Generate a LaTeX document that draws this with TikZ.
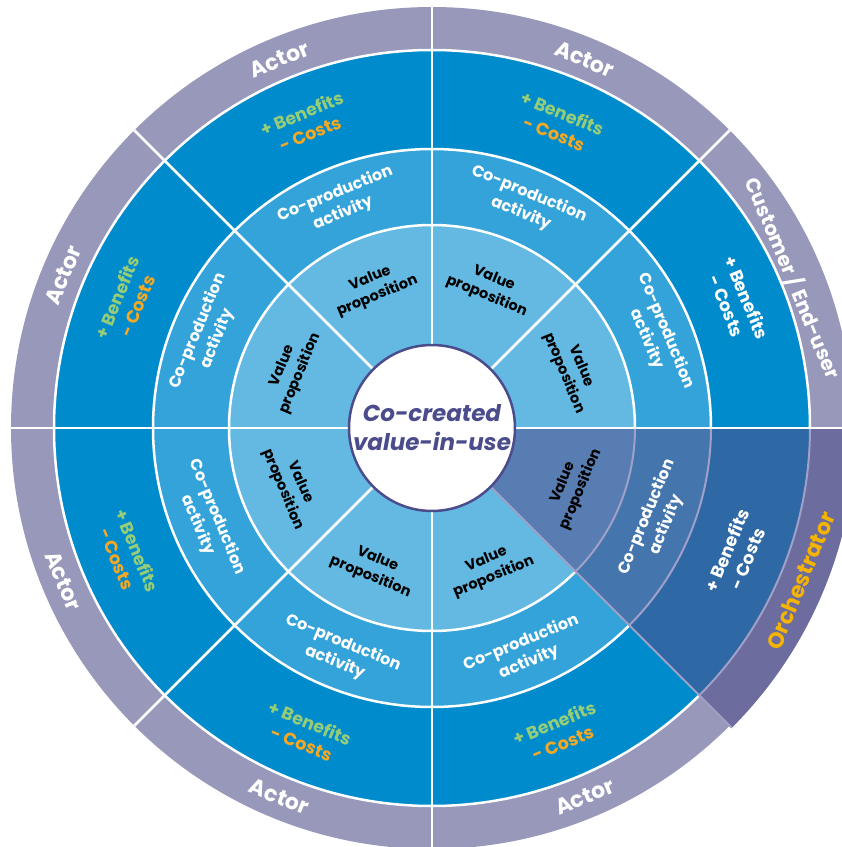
\documentclass[tikz,border=0pt]{standalone}
\usepackage{fontspec}
\setmainfont{Poppins}
\usepackage{tikz}
\usetikzlibrary{shapes.geometric}
\usetikzlibrary{positioning}

\definecolor{ringgrey}{RGB}{152,152,186}
\definecolor{benblue}{RGB}{0,140,204}
\definecolor{copblue}{RGB}{51,163,217}
\definecolor{vpblue}{RGB}{100,185,226}
\definecolor{orring}{RGB}{108,108,158}
\definecolor{orben}{RGB}{46,104,165}
\definecolor{orcop}{RGB}{69,117,173}
\definecolor{orvp}{RGB}{88,125,178}
\definecolor{orline}{RGB}{160,160,200}
\definecolor{bengreen}{RGB}{150,205,120}
\definecolor{costorange}{RGB}{247,168,35}
\definecolor{orchyellow}{RGB}{245,180,0}
\definecolor{ctrtext}{RGB}{75,76,140}

\tikzset{
  ringlbl/.style={text=white,font=\bfseries\fontsize{22}{24}\selectfont},
  benlbl/.style={align=center,font=\bfseries\fontsize{17.5}{22}\selectfont},
  coplbl/.style={text=white,align=center,font=\bfseries\fontsize{16}{21}\selectfont},
  vplbl/.style={text=black,align=center,font=\bfseries\fontsize{14.5}{19}\selectfont},
  sepline/.style={white,line width=2.5pt},
  orsep/.style={orline,line width=2pt}
}
\newcommand{\bencost}{\textcolor{bengreen}{+ Benefits}\\\textcolor{costorange}{- Costs}}

\begin{document}
\begin{tikzpicture}[x=1pt,y=1pt]
\useasboundingbox (-432,-419) rectangle (410,428);
\clip (-432,-419) rectangle (410,428);

% rings
\fill[ringgrey] (0,0) circle (421);
\fill[benblue] (0,0) circle (378);
\fill[copblue] (0,0) circle (279);
\fill[vpblue] (0,0) circle (203);

% orchestrator sector
\fill[orring] (0,0) -- (0:424) arc[start angle=0,end angle=-45,radius=424] -- cycle;
\fill[orben] (0,0) -- (0:378) arc[start angle=0,end angle=-45,radius=378] -- cycle;
\fill[orcop] (0,0) -- (0:279) arc[start angle=0,end angle=-45,radius=279] -- cycle;
\fill[orvp] (0,0) -- (0:203) arc[start angle=0,end angle=-45,radius=203] -- cycle;

% separators
\draw[sepline] (0:378) arc[start angle=0,end angle=315,radius=378];
\draw[sepline] (0:279) arc[start angle=0,end angle=315,radius=279];
\draw[sepline] (0:203) arc[start angle=0,end angle=315,radius=203];
\draw[orsep] (0:378) arc[start angle=0,end angle=-45,radius=378];
\draw[orsep] (0:279) arc[start angle=0,end angle=-45,radius=279];
\draw[orsep] (0:203) arc[start angle=0,end angle=-45,radius=203];
\draw[sepline] (0,0) -- (0:421);
\draw[sepline] (0,0) -- (45:421);
\draw[sepline] (0,0) -- (90:421);
\draw[sepline] (0,0) -- (135:421);
\draw[sepline] (0,0) -- (180:421);
\draw[sepline] (0,0) -- (225:421);
\draw[sepline] (0,0) -- (270:421);
\draw[orsep] (0,0) -- (-45:424);

% centre
\node (ctr) [circle,draw=ctrtext,line width=2.5pt,fill=white,minimum size=166pt] at (0,0) {};
\node (ctrtxt) [text=ctrtext,align=center,font=\bfseries\itshape\fontsize{23}{29}\selectfont] at (ctr) {Co-created\\value-in-use};

% outer labels
\node (actA) [ringlbl,rotate=22.5] at (112.5:399) {Actor};
\node (actB) [ringlbl,rotate=-22.5] at (67.5:399) {Actor};
\node (cust) [ringlbl,rotate=-67.5,font=\bfseries\fontsize{20}{22}\selectfont] at (22.5:391) {Customer / End-user};
\node (orch) [ringlbl,rotate=67.5,text=orchyellow] at (-22.5:399) {Orchestrator};
\node (actE) [ringlbl,rotate=22.5] at (-67.5:399) {Actor};
\node (actF) [ringlbl,rotate=-22.5] at (-112.5:399) {Actor};
\node (actG) [ringlbl,rotate=-67.5] at (-157.5:399) {Actor};
\node (actH) [ringlbl,rotate=67.5] at (157.5:399) {Actor};

% benefits and costs
\node (benA) [benlbl,rotate=22.5] at (112.5:330) {\bencost};
\node (benB) [benlbl,rotate=-22.5] at (67.5:330) {\bencost};
\node (benC) [benlbl,rotate=-67.5,text=white] at (22.5:330) {+ Benefits\\- Costs};
\node (benD) [benlbl,rotate=67.5,text=white] at (-22.5:330) {+ Benefits\\- Costs};
\node (benE) [benlbl,rotate=22.5] at (-67.5:330) {\bencost};
\node (benF) [benlbl,rotate=-22.5] at (-112.5:330) {\bencost};
\node (benG) [benlbl,rotate=-67.5] at (-157.5:330) {\bencost};
\node (benH) [benlbl,rotate=67.5] at (157.5:330) {\bencost};

% co-production
\node (copA) [coplbl,rotate=22.5] at (112.5:243) {Co-production\\activity};
\node (copB) [coplbl,rotate=-22.5] at (67.5:243) {Co-production\\activity};
\node (copC) [coplbl,rotate=-67.5] at (22.5:243) {Co-production\\activity};
\node (copD) [coplbl,rotate=67.5] at (-22.5:243) {Co-production\\activity};
\node (copE) [coplbl,rotate=22.5] at (-67.5:243) {Co-production\\activity};
\node (copF) [coplbl,rotate=-22.5] at (-112.5:243) {Co-production\\activity};
\node (copG) [coplbl,rotate=-67.5] at (-157.5:243) {Co-production\\activity};
\node (copH) [coplbl,rotate=67.5] at (157.5:243) {Co-production\\activity};

% value propositions
\node (vpA) [vplbl,rotate=22.5] at (112.5:152) {Value\\proposition};
\node (vpB) [vplbl,rotate=-22.5] at (67.5:152) {Value\\proposition};
\node (vpC) [vplbl,rotate=-67.5] at (22.5:152) {Value\\proposition};
\node (vpD) [vplbl,rotate=67.5] at (-22.5:152) {Value\\proposition};
\node (vpE) [vplbl,rotate=22.5] at (-67.5:152) {Value\\proposition};
\node (vpF) [vplbl,rotate=-22.5] at (-112.5:152) {Value\\proposition};
\node (vpG) [vplbl,rotate=-67.5] at (-157.5:152) {Value\\proposition};
\node (vpH) [vplbl,rotate=67.5] at (157.5:152) {Value\\proposition};
\end{tikzpicture}
\end{document}
